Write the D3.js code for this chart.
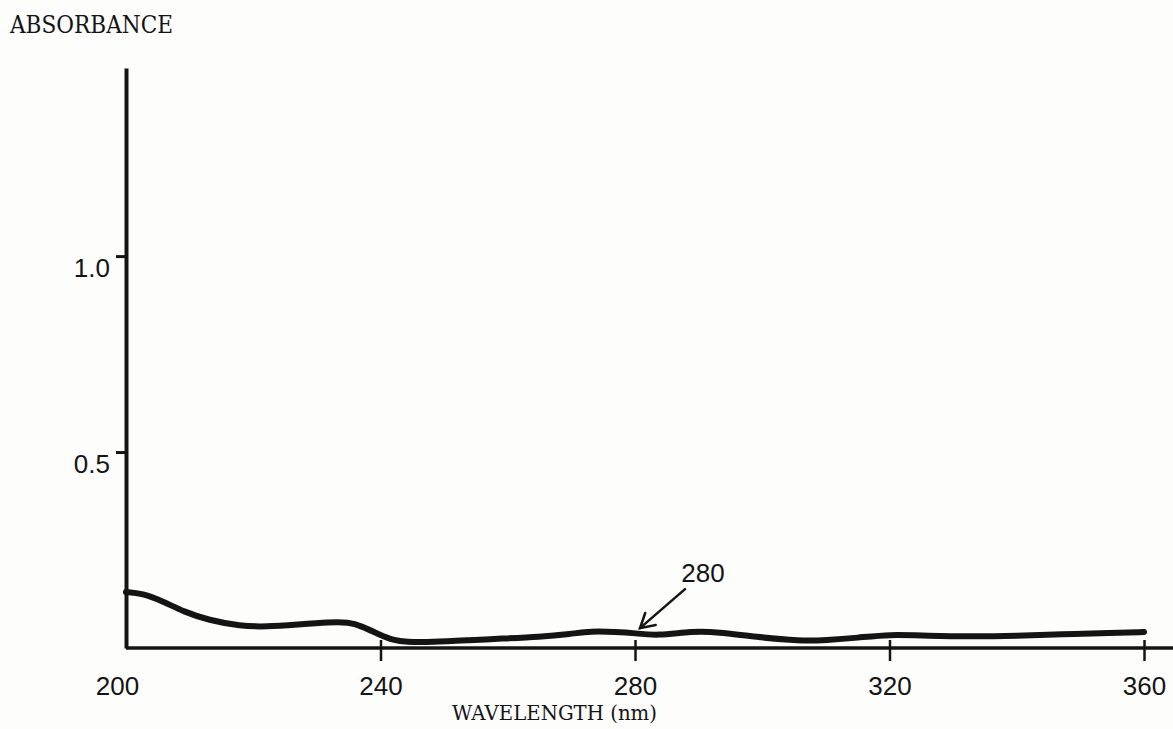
<!DOCTYPE html>
<html>
<head>
<meta charset="utf-8">
<script src="https://d3js.org/d3.v7.min.js"></script>
<style>
  body { margin: 0; background: #fdfdfc; }
  svg { display: block; }
</style>
</head>
<body>
<svg id="viz" width="1173" height="729"></svg>

<script>
// spectrum: wavelength (nm) and absorbance
var wavelengths = [200, 202.5, 206, 209, 213, 218, 222, 227, 232, 235, 237, 240, 242, 244, 248,
                   254, 259, 265, 270, 273, 277, 280, 283.5, 289, 293, 299, 306, 310, 315, 320,
                   326, 333, 340, 347, 355, 360];
var absorbance = [0.143, 0.140, 0.118, 0.093, 0.071, 0.056, 0.054, 0.060, 0.066, 0.066, 0.056, 0.033, 0.020, 0.015, 0.015,
                  0.020, 0.024, 0.028, 0.036, 0.043, 0.041, 0.038, 0.031, 0.043, 0.041, 0.028, 0.018, 0.020, 0.026, 0.035,
                  0.031, 0.029, 0.031, 0.035, 0.038, 0.041];

var xTicks = [200, 240, 280, 320, 360];
var yTicks = [0.5, 1.0];
var yTickLabels = ["0.5", "1.0"];
var markedWavelength = 280;
var markedLabel = "280";

var width = 1173;
var height = 729;
var ink = "#141414";
var numFont = "'Liberation Sans', Arial, sans-serif";
var typeFont = "'DejaVu Serif', 'Liberation Serif', serif";

var x = d3.scaleLinear().domain([200, 360]).range([126, 1144]);
var y = d3.scaleLinear().domain([0, 1.48]).range([648, 68]);

var svg = d3.select("#viz");

// y axis
var yAxis = svg.append("g")
    .attr("transform", "translate(" + x(200) + ",0)")
    .call(d3.axisLeft(y).tickValues(yTicks).tickSize(10).tickSizeOuter(0)
        .tickFormat(function(d, i) { return yTickLabels[i]; }));
yAxis.select(".domain").attr("stroke", ink).attr("stroke-width", 4);
yAxis.selectAll(".tick line").attr("stroke", ink).attr("stroke-width", 3);
yAxis.selectAll(".tick text")
    .attr("x", -16).attr("dy", 0).attr("y", 20)
    .attr("fill", ink)
    .style("font-family", numFont)
    .style("font-size", "26px");

// x axis
var xAxis = svg.append("g")
    .attr("transform", "translate(0," + y(0) + ")")
    .call(d3.axisBottom(x).tickValues(xTicks).tickSize(13).tickSizeOuter(0));
xAxis.select(".domain").remove();
xAxis.append("line")
    .attr("x1", x(200)).attr("x2", width)
    .attr("stroke", ink).attr("stroke-width", 3.5);
xAxis.selectAll(".tick line")
    .attr("y1", -8)
    .attr("stroke", ink).attr("stroke-width", 2.5)
    .attr("display", function(d) { return d === 200 ? "none" : null; });
xAxis.selectAll(".tick text")
    .attr("y", 47).attr("dy", 0)
    .attr("dx", function(d) { return d === 200 ? -9 : 0; })
    .attr("fill", ink)
    .style("font-family", numFont)
    .style("font-size", "26px");

// axis titles
svg.append("text")
    .attr("x", 10).attr("y", 33)
    .attr("textLength", 163).attr("lengthAdjust", "spacingAndGlyphs")
    .attr("fill", ink)
    .style("font-family", typeFont)
    .style("font-size", "24px")
    .text("ABSORBANCE");

svg.append("text")
    .attr("x", 452).attr("y", 720)
    .attr("textLength", 205).attr("lengthAdjust", "spacingAndGlyphs")
    .attr("fill", ink)
    .style("font-family", typeFont)
    .style("font-size", "21px")
    .text("WAVELENGTH (nm)");

// spectrum trace
var points = wavelengths.map(function(w, i) { return [w, absorbance[i]]; });
var line = d3.line()
    .x(function(d) { return x(d[0]); })
    .y(function(d) { return y(d[1]); })
    .curve(d3.curveBasis);

svg.append("path")
    .datum(points)
    .attr("d", line)
    .attr("fill", "none")
    .attr("stroke", ink)
    .attr("stroke-width", 6)
    .attr("stroke-linecap", "round")
    .attr("stroke-linejoin", "round");

// arrow marking 280 nm
var markIdx = wavelengths.indexOf(markedWavelength);
var tipX = x(markedWavelength) + 5;
var tipY = y(absorbance[markIdx]) - 5;
var tailX = tipX + 45;
var tailY = tipY - 39;
var ang = Math.atan2(tailY - tipY, tailX - tipX);
var wing = 16;
var spread = Math.PI / 6;

var arrow = svg.append("g")
    .attr("stroke", ink).attr("stroke-width", 2.5)
    .attr("stroke-linecap", "round").attr("fill", "none");
arrow.append("line")
    .attr("x1", tailX).attr("y1", tailY)
    .attr("x2", tipX).attr("y2", tipY);
arrow.append("polyline")
    .attr("points", [
        [tipX + wing * Math.cos(ang - spread), tipY + wing * Math.sin(ang - spread)],
        [tipX, tipY],
        [tipX + wing * Math.cos(ang + spread), tipY + wing * Math.sin(ang + spread)]
    ].map(function(p) { return p.join(","); }).join(" "));

svg.append("text")
    .attr("x", tailX + 18).attr("y", tailY - 7)
    .attr("text-anchor", "middle")
    .attr("fill", ink)
    .style("font-family", numFont)
    .style("font-size", "26px")
    .text(markedLabel);
</script>
</body>
</html>
